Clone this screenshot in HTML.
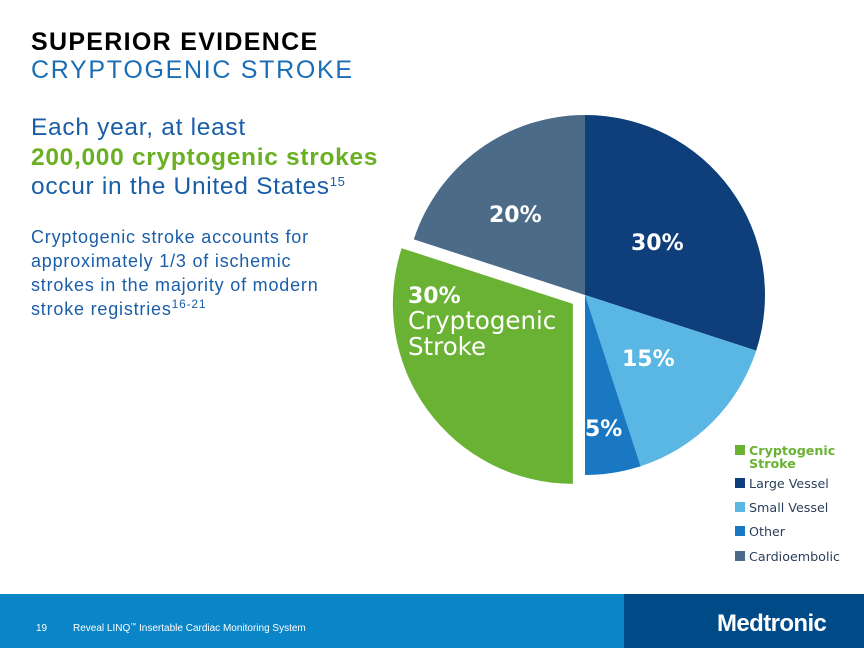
<!DOCTYPE html>
<html><head><meta charset="utf-8"><style>
body{margin:0;width:864px;height:648px;position:relative;background:#fff;font-family:"Liberation Sans",sans-serif;overflow:hidden}
.t{position:absolute;white-space:nowrap}
sup{line-height:0;vertical-align:0;position:relative;top:-0.6em}
</style></head><body>
<div class="t" style="left:31px;top:28px;font-size:25px;font-weight:bold;color:#000;letter-spacing:1.3px">SUPERIOR EVIDENCE</div>
<div class="t" style="left:31px;top:56px;font-size:25px;color:#1a6db5;letter-spacing:1.7px">CRYPTOGENIC STROKE</div>
<div class="t" style="left:31px;top:113px;font-size:24.5px;line-height:29.5px;color:#1a5ea8;letter-spacing:0.7px">Each year, at least<br><b style="color:#6ab023">200,000 cryptogenic strokes</b><br>occur in the United States<sup style="font-size:13px">15</sup></div>
<div class="t" style="left:31px;top:225px;font-size:18px;line-height:24px;color:#1a5ea8;letter-spacing:0.8px">Cryptogenic stroke accounts for<br>approximately 1/3 of ischemic<br>strokes in the majority of modern<br>stroke registries<sup style="font-size:12px">16-21</sup></div>
<svg id="pie" width="864" height="648" style="position:absolute;left:0;top:0"></svg>
<div style="position:absolute;left:0;top:594px;width:624px;height:54px;background:#0a85c8"></div>
<div style="position:absolute;left:624px;top:594px;width:240px;height:54px;background:#004b87"></div>
<div class="t" style="left:36px;top:623px;font-size:10px;color:#fff">19</div>
<div class="t" style="left:73px;top:623px;font-size:10px;color:#fff">Reveal LINQ<sup style="font-size:6px">™</sup> Insertable Cardiac Monitoring System</div>
<div class="t" style="left:717px;top:610px;font-size:24px;font-weight:bold;color:#fff;letter-spacing:-0.6px">Medtronic</div>
<script>
const categories=["Large Vessel","Small Vessel","Other","Cryptogenic Stroke","Cardioembolic"];
const values=[30,15,5,30,20];
const labels=["30%","15%","5%","30%\nCryptogenic\nStroke","20%"];
const colors=["#0e3f7a","#5ab7e3","#1a78c2","#6ab233","#4b6b88"];
const explode=[0,0,0,15,0];
const legendOrder=[3,0,1,2,4];
const legendText=["Cryptogenic\nStroke","Large Vessel","Small Vessel","Other","Cardioembolic"];
const svg=document.getElementById('pie');const NS="http://www.w3.org/2000/svg";
const cx=585,cy=295,R=180;
const total=values.reduce((a,b)=>a+b,0);
function pt(a,r,ox,oy){return [ox+r*Math.sin(a),oy-r*Math.cos(a)];}
let acc=0;
const labelPos=[[631,250],[622,366],[585,436],[408,303],[489,222]];
values.forEach((v,i)=>{
 const a0=acc/total*2*Math.PI,a1=(acc+v)/total*2*Math.PI;acc+=v;
 const mid=(a0+a1)/2,ox=cx+explode[i]*Math.sin(mid),oy=cy-explode[i]*Math.cos(mid);
 const p0=pt(a0,R,ox,oy),p1=pt(a1,R,ox,oy);
 const p=document.createElementNS(NS,'path');
 p.setAttribute('d',`M${ox},${oy}L${p0[0]},${p0[1]}A${R},${R} 0 ${a1-a0>Math.PI?1:0} 1 ${p1[0]},${p1[1]}Z`);
 p.setAttribute('fill',colors[i]);
 
 
 svg.appendChild(p);
 const t=document.createElementNS(NS,'text');
 t.setAttribute('font-family','DejaVu Sans, sans-serif');t.setAttribute('font-weight','bold');
 t.setAttribute('fill','#fff');t.setAttribute('font-size','22');
 
 
 labels[i].split('\n').forEach((s,k)=>{const ts=document.createElementNS(NS,'tspan');ts.setAttribute('x',labelPos[i][0]);ts.setAttribute('y',labelPos[i][1]+k*26);ts.textContent=s;if(k>0){ts.setAttribute('font-weight','normal');ts.setAttribute('font-size','24.5');}t.appendChild(ts);});
 svg.appendChild(t);
});
legendOrder.forEach((ci,k)=>{
 const y=[445,478,502,526,551][k];
 const r=document.createElementNS(NS,'rect');
 r.setAttribute('x',735);r.setAttribute('y',y);r.setAttribute('width',10);r.setAttribute('height',10);r.setAttribute('fill',colors[ci]);
 
 
 svg.appendChild(r);
 const t=document.createElementNS(NS,'text');
 t.setAttribute('font-family','DejaVu Sans, sans-serif');t.setAttribute('font-size','12.7');
 t.setAttribute('fill',k==0?'#6ab233':'#2a3f5a');if(k==0)t.setAttribute('font-weight','bold');
 
 
 legendText[k].split('\n').forEach((s,j)=>{const ts=document.createElementNS(NS,'tspan');ts.setAttribute('x',749);ts.setAttribute('y',y+10+j*13);ts.textContent=s;t.appendChild(ts);});
 svg.appendChild(t);
});
</script>
</body></html>
